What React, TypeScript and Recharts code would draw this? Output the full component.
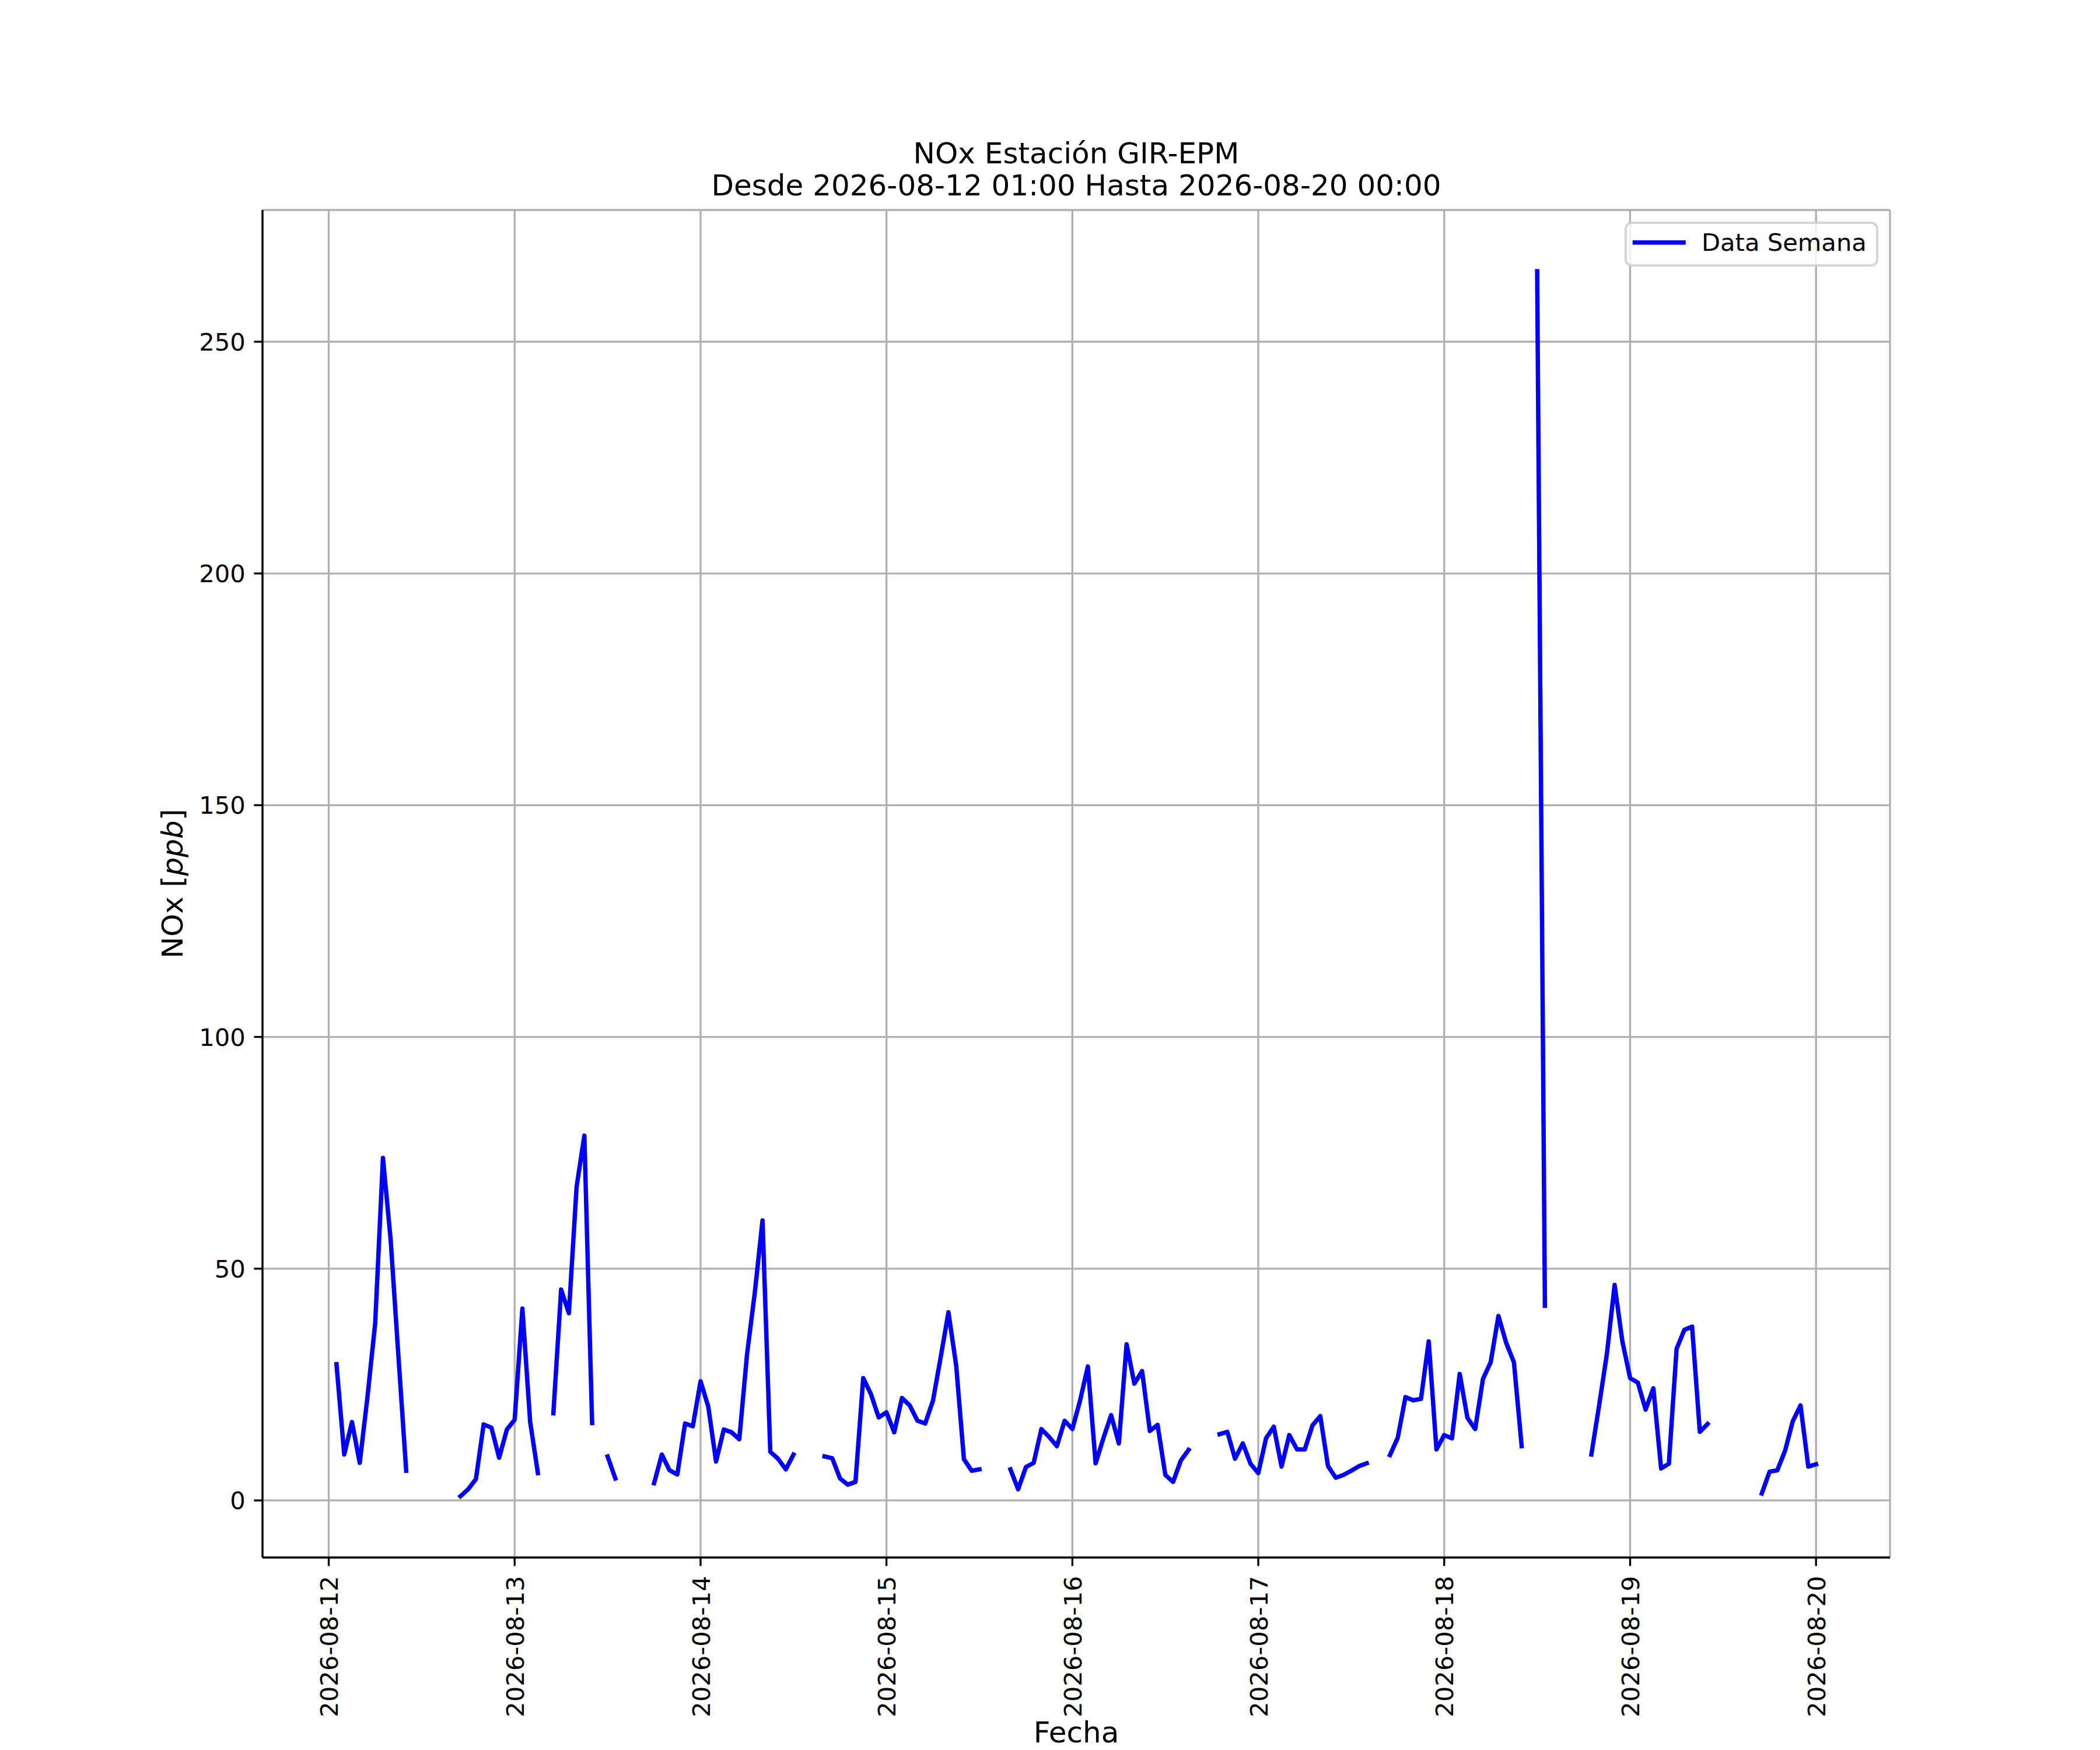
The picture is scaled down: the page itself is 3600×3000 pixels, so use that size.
import React from 'react';
import { LineChart, Line, XAxis, YAxis, CartesianGrid, Legend } from 'recharts';

// Hourly NOx [ppb], Estación GIR-EPM (null = missing hour)
const NOX_0812 = [29.4, 9.9, 16.9, 8.1, 22.3, 38.3, 73.9, 56.1, 31.0, 6.4, null, null, null, null, null, null, 0.9, 2.4, 4.6, 16.4, 15.7, 9.2, 15.3]; // 01:00..23:00
const NOX_0813 = [17.4, 41.4, 17.0, 5.9, null, 18.8, 45.5, 40.4, 67.7, 78.7, 16.7, null, 9.5, 4.75, null, null, null, null, 3.7, 9.9, 6.5, 5.6, 16.6, 16.0];
const NOX_0814 = [25.7, 20.2, 8.4, 15.3, 14.7, 13.2, 31.5, 44.8, 60.4, 10.5, 9.0, 6.7, 9.9, null, null, null, 9.5, 9.1, 4.75, 3.4, 4.0, 26.4, 22.9, 17.9];
const NOX_0815 = [19.0, 14.7, 22.1, 20.5, 17.2, 16.6, 21.5, 30.9, 40.6, 29.1, 8.9, 6.4, 6.7, null, null, null, 6.7, 2.4, 7.2, 8.1, 15.4, 13.7, 11.7, 17.2];
const NOX_0816 = [15.4, 21.6, 28.9, 8.0, 13.4, 18.4, 12.3, 33.7, 25.2, 27.9, 15.0, 16.3, 5.5, 4.0, 8.6, 10.9, null, null, null, 14.3, 14.8, 9.0, 12.3, 7.9];
const NOX_0817 = [5.9, 13.4, 15.9, 7.3, 14.1, 11.0, 11.0, 16.2, 18.2, 7.4, 4.9, 5.5, 6.4, 7.4, 8.0, null, null, 9.8, 13.5, 22.3, 21.6, 21.9, 34.3, 11.0];
const NOX_0818 = [14.1, 13.4, 27.3, 17.8, 15.4, 26.2, 29.8, 39.8, 34.0, 29.8, 11.7, null, 265.2, 42.0, null, null, null, null, null, 9.9, 20.5, 31.6, 46.5, 34.3];
const NOX_0819 = [26.4, 25.4, 19.6, 24.2, 6.9, 7.9, 32.7, 36.8, 37.5, 14.8, 16.5, null, null, null, null, null, null, 1.5, 6.2, 6.5, 10.7, 17.1, 20.5, 7.3];
const NOX_0820 = [7.8]; // 00:00

const FIRST_HOUR = 1; // hours after 2026-08-12 00:00
const DAY_TICKS = [0, 24, 48, 72, 96, 120, 144, 168, 192];
const DAY_LABELS = ['2026-08-12', '2026-08-13', '2026-08-14', '2026-08-15', '2026-08-16', '2026-08-17', '2026-08-18', '2026-08-19', '2026-08-20'];
const Y_TICKS = [0, 50, 100, 150, 200, 250];
const SERIES_NAME = 'Data Semana';
const TITLE_LINES = ['NOx Estación GIR-EPM', 'Desde 2026-08-12 01:00 Hasta 2026-08-20 00:00'];
const X_LABEL = 'Fecha';

const NOX = [...NOX_0812, ...NOX_0813, ...NOX_0814, ...NOX_0815, ...NOX_0816, ...NOX_0817, ...NOX_0818, ...NOX_0819, ...NOX_0820];
const rows = NOX.map((v, i) => ({ h: FIRST_HOUR + i, v }));

// matplotlib-like 5% autoscale margins
const hs = rows.map((r) => r.h);
const vs = NOX.filter((v) => v !== null) as number[];
const hMin = Math.min(...hs), hMax = Math.max(...hs);
const vMin = Math.min(...vs), vMax = Math.max(...vs);
const X_DOMAIN: [number, number] = [hMin - 0.05 * (hMax - hMin), hMax + 0.05 * (hMax - hMin)];
const Y_DOMAIN: [number, number] = [vMin - 0.05 * (vMax - vMin), vMax + 0.05 * (vMax - vMin)];

const FONT = 'DejaVu Sans';
const BLUE = '#0000ff';
const PT = 300 / 72;
const TICK_FS = 10 * PT;
const LABEL_FS = 12 * PT;
const SPINE_W = 0.8 * PT;
const TICK_LEN = 3.5 * PT;

const labelFor = (v: number) => DAY_LABELS[DAY_TICKS.indexOf(v)] ?? '';

const XTick = (props: any) => {
  const { x, y, payload } = props;
  return (
    <text
      transform={`translate(${x + 15.6},${y}) rotate(-90)`}
      textAnchor="end"
      fontSize={TICK_FS}
      fontFamily={FONT}
      fill="#000"
    >
      {labelFor(payload.value)}
    </text>
  );
};

const YTick = (props: any) => {
  const { x, y, payload } = props;
  return (
    <text x={x} y={y + 15} textAnchor="end" fontSize={TICK_FS} fontFamily={FONT} fill="#000">
      {payload.value}
    </text>
  );
};

const XLabel = (props: any) => {
  const vb = props.viewBox || { x: 450, y: 2670, width: 2790, height: 330 };
  return (
    <text x={vb.x + vb.width / 2} y={vb.y + 317} textAnchor="middle" fontSize={LABEL_FS} fontFamily={FONT} fill="#000">
      {X_LABEL}
    </text>
  );
};

const YLabel = (props: any) => {
  const vb = props.viewBox || { x: 0, y: 360, width: 450, height: 2310 };
  const cy = vb.y + vb.height / 2;
  return (
    <text
      transform={`translate(312.7,${cy}) rotate(-90)`}
      textAnchor="middle"
      fontSize={LABEL_FS}
      fontFamily={FONT}
      fill="#000"
    >
      NOx [<tspan fontStyle="italic">ppb</tspan>]
    </text>
  );
};

const LegendBox = () => (
  <svg width={435} height={77} style={{ display: 'block', overflow: 'visible' }}>
    <rect x={2} y={2} width={431} height={73} rx={10} ry={10} fill="#ffffff" fillOpacity={0.8} stroke="#cccccc" strokeOpacity={0.8} strokeWidth={4.17} />
    <line x1={17.5} y1={35.7} x2={101} y2={35.7} stroke={BLUE} strokeWidth={7.5} strokeLinecap="square" />
    <text x={132} y={50} fontSize={TICK_FS} fontFamily={FONT} fill="#000">{SERIES_NAME}</text>
  </svg>
);

export default function App() {
  return (
    <div style={{ position: 'absolute', left: 0, top: 0, width: 3600, height: 3000, background: '#ffffff' }}>
      <LineChart width={3600} height={3000} data={rows} margin={{ top: 360, right: 360, bottom: 0, left: 0 }}>
        <CartesianGrid stroke="#b0b0b0" strokeWidth={SPINE_W} />
        <XAxis
          dataKey="h"
          type="number"
          domain={X_DOMAIN}
          allowDataOverflow
          ticks={DAY_TICKS}
          interval={0}
          height={330}
          tickSize={TICK_LEN}
          tickMargin={17}
          tick={XTick}
          tickLine={{ stroke: '#000', strokeWidth: SPINE_W }}
          axisLine={{ stroke: '#000', strokeWidth: SPINE_W }}
          label={{ value: X_LABEL, content: XLabel }}
        />
        <XAxis
          xAxisId="top"
          orientation="top"
          dataKey="h"
          type="number"
          domain={X_DOMAIN}
          allowDataOverflow
          height={0}
          tick={false}
          tickLine={false}
          axisLine={{ stroke: '#000', strokeWidth: SPINE_W }}
        />
        <YAxis
          type="number"
          domain={Y_DOMAIN}
          allowDataOverflow
          ticks={Y_TICKS}
          interval={0}
          width={450}
          tickSize={TICK_LEN}
          tickMargin={TICK_LEN}
          tick={YTick}
          tickLine={{ stroke: '#000', strokeWidth: SPINE_W }}
          axisLine={{ stroke: '#000', strokeWidth: SPINE_W }}
          label={{ value: 'NOx [ppb]', content: YLabel }}
        />
        <YAxis
          yAxisId="right"
          orientation="right"
          type="number"
          domain={Y_DOMAIN}
          allowDataOverflow
          width={0}
          tick={false}
          tickLine={false}
          axisLine={{ stroke: '#000', strokeWidth: SPINE_W }}
        />
        <Legend
          layout="horizontal"
          verticalAlign="middle"
          align="center"
          wrapperStyle={{ left: 2785, top: 380, width: 435, height: 77 }}
          content={LegendBox}
        />
        <Line
          type="linear"
          dataKey="v"
          name={SERIES_NAME}
          stroke={BLUE}
          strokeWidth={7.5}
          strokeLinejoin="round"
          strokeLinecap="square"
          dot={false}
          activeDot={false}
          connectNulls={false}
          isAnimationActive={false}
        />
      </LineChart>
      <svg
        width={3600}
        height={3000}
        style={{ position: 'absolute', left: 0, top: 0, pointerEvents: 'none' }}
      >
        <text x={1845} y={280} textAnchor="middle" fontSize={LABEL_FS} fontFamily={FONT} fill="#000">{TITLE_LINES[0]}</text>
        <text x={1845} y={335} textAnchor="middle" fontSize={LABEL_FS} fontFamily={FONT} fill="#000">{TITLE_LINES[1]}</text>
      </svg>
    </div>
  );
}
